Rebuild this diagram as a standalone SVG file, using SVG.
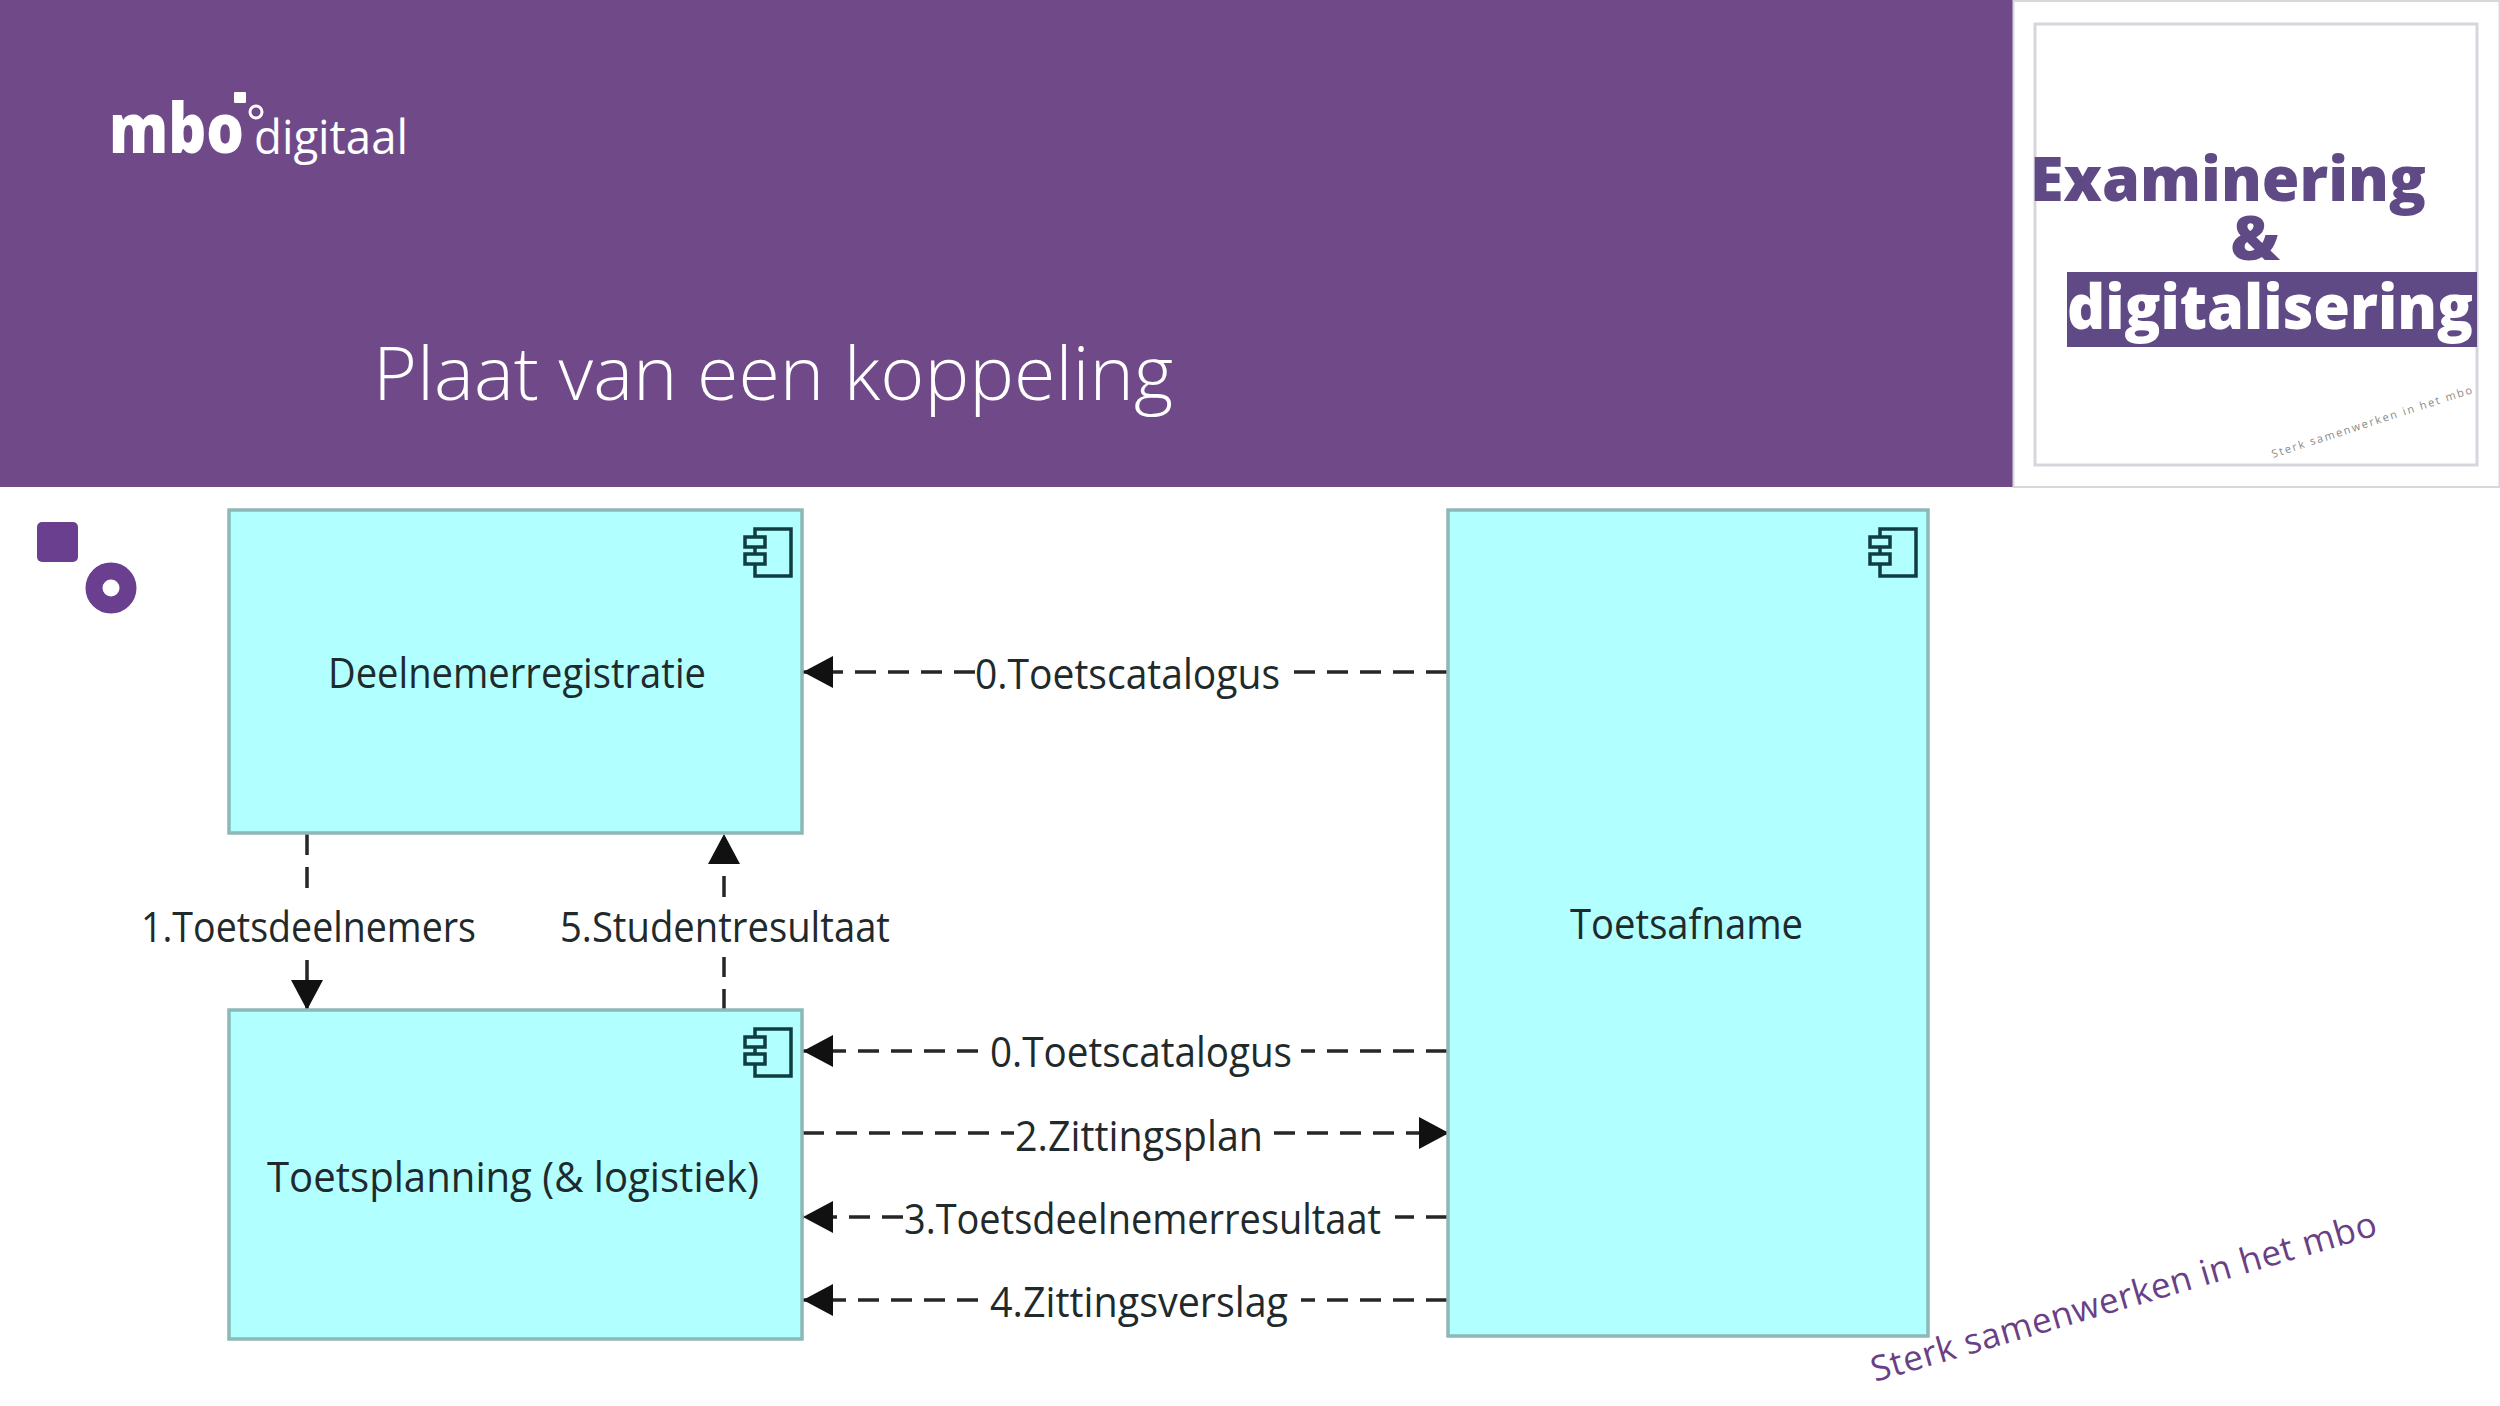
<svg xmlns="http://www.w3.org/2000/svg" width="2500" height="1406" viewBox="0 0 2500 1406">
<style>
.box{fill:#b2ffff;stroke:#8db8b8;stroke-width:3.5}
.lbl{font-family:"Open Sans","Noto Sans",sans-serif;font-size:42px;fill:#1f2a2c}
.conn{stroke:#262626;stroke-width:3.5;fill:none;stroke-dasharray:21 12}
.ico{fill:none;stroke:#0f3d42;stroke-width:3.5}
.bold{font-family:"Open Sans","Noto Sans",sans-serif;font-weight:800;font-size:62px}
</style>
<defs>
<marker id="arr" markerUnits="userSpaceOnUse" markerWidth="32" markerHeight="34" refX="30" refY="16" orient="auto"><path d="M0 0 L30 16 L0 32Z" fill="#111"/></marker>
<g id="icon"><path class="ico" d="M11 9V1H47V48H11V35M11 27V19"/><rect class="ico" x="1" y="9" width="20" height="10"/><rect class="ico" x="1" y="26" width="20" height="10"/></g>
</defs>
<rect width="2500" height="1406" fill="#fff"/>
<g id="header">
<rect width="2013" height="487" fill="#704989"/>
<text x="373" y="400" font-family="Open Sans,Noto Sans,sans-serif" font-weight="300" font-size="74" fill="#fff" textLength="800" lengthAdjust="spacingAndGlyphs">Plaat van een koppeling</text>
</g>
<g id="logo" fill="#fff">
<text x="109" y="153" font-family="Open Sans,sans-serif" font-weight="800" font-size="69" textLength="135" lengthAdjust="spacingAndGlyphs">mbo</text>
<text x="254" y="154" font-family="Open Sans,sans-serif" font-size="48" textLength="154" lengthAdjust="spacingAndGlyphs">digitaal</text>
<rect x="234" y="92" width="12" height="11" rx="1"/>
<circle cx="256" cy="112" r="6" fill="none" stroke="#fff" stroke-width="3"/>
</g>
<g id="cover">
<rect x="2013.500" y="1" width="486" height="486" fill="#fff" stroke="#d8d8dc" stroke-width="2"/>
<rect x="2035" y="24" width="442" height="441" fill="#fff" stroke="#d6d6dc" stroke-width="3"/>
<text class="bold" x="2030" y="201" fill="#5f4a85" textLength="396" lengthAdjust="spacingAndGlyphs">Examinering</text>
<text class="bold" x="2255" y="260" fill="#5f4a85" text-anchor="middle">&amp;</text>
<rect x="2067" y="272" width="410" height="75" fill="#5f4a85"/>
<text class="bold" x="2067" y="329" fill="#fff" textLength="406" lengthAdjust="spacingAndGlyphs">digitalisering</text>
<text transform="translate(2273 458) rotate(-18)" font-family="Open Sans,sans-serif" font-size="11" fill="#8a8a8a" textLength="210" lengthAdjust="spacing">Sterk samenwerken in het mbo</text>
</g>
<g id="deco">
<rect x="37" y="522" width="41" height="40" rx="5" fill="#6a3f8f"/>
<circle cx="111" cy="588" r="17" fill="#fff" stroke="#6a3f8f" stroke-width="17"/>
</g>
<g id="connectors">
<path class="conn" d="M1447 672H1284"/><path class="conn" d="M975 672H803" marker-end="url(#arr)"/>
<path class="conn" d="M1447 1051H1301"/><path class="conn" d="M978 1051H803" marker-end="url(#arr)"/>
<path class="conn" d="M803 1133H1014"/><path class="conn" d="M1274 1133H1449" marker-end="url(#arr)"/>
<path class="conn" d="M1447 1217H1395"/><path class="conn" d="M903 1217H803" marker-end="url(#arr)"/>
<path class="conn" d="M1447 1300H1301"/><path class="conn" d="M978 1300H803" marker-end="url(#arr)"/>
<path class="conn" d="M307 834V890"/><path class="conn" d="M307 960V1010" marker-end="url(#arr)"/>
<path class="conn" d="M724 1010V957"/><path class="conn" d="M724 897V834" marker-end="url(#arr)"/>
</g>
<g id="n1"><rect class="box" x="229" y="510" width="573" height="323"/><use href="#icon" x="744" y="528"/><text class="lbl" x="328" y="688" textLength="378" lengthAdjust="spacingAndGlyphs">Deelnemerregistratie</text></g>
<g id="n2"><rect class="box" x="1448" y="510" width="480" height="826"/><use href="#icon" x="1869" y="528"/><text class="lbl" x="1570" y="939" textLength="233" lengthAdjust="spacingAndGlyphs">Toetsafname</text></g>
<g id="n3"><rect class="box" x="229" y="1010" width="573" height="329"/><use href="#icon" x="744" y="1028"/><text class="lbl" x="267" y="1192" textLength="492" lengthAdjust="spacingAndGlyphs">Toetsplanning (&amp; logistiek)</text></g>
<g id="labels">
<text class="lbl" x="975" y="689" textLength="305" lengthAdjust="spacingAndGlyphs">0.Toetscatalogus</text>
<text class="lbl" x="141" y="942" textLength="335" lengthAdjust="spacingAndGlyphs">1.Toetsdeelnemers</text>
<text class="lbl" x="560" y="942" textLength="330" lengthAdjust="spacingAndGlyphs">5.Studentresultaat</text>
<text class="lbl" x="990" y="1067" textLength="302" lengthAdjust="spacingAndGlyphs">0.Toetscatalogus</text>
<text class="lbl" x="1015" y="1151" textLength="248" lengthAdjust="spacingAndGlyphs">2.Zittingsplan</text>
<text class="lbl" x="904" y="1234" textLength="477" lengthAdjust="spacingAndGlyphs">3.Toetsdeelnemerresultaat</text>
<text class="lbl" x="990" y="1317" textLength="298" lengthAdjust="spacingAndGlyphs">4.Zittingsverslag</text>
</g>
<text transform="translate(1875 1382) rotate(-16.300)" font-family="Open Sans,sans-serif" font-size="35" fill="#6b3f85" textLength="525" lengthAdjust="spacing">Sterk samenwerken in het mbo</text>
</svg>
